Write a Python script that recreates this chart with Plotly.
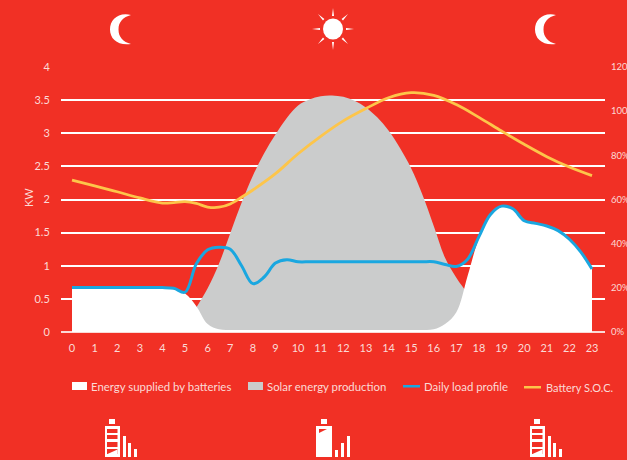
import plotly.graph_objects as go

# Half-hourly profile series, in kW
solar_hours = [4.5, 5, 5.5, 6, 6.5, 7, 7.5, 8, 8.5, 9, 9.5, 10, 10.5, 11, 11.5, 12, 12.5, 13, 13.5, 14, 14.5, 15, 15.5, 16, 16.5, 17, 17.5, 18, 18.5, 19, 19.5]
solar_kw = [0, 0.1, 0.37, 0.66, 1.03, 1.49, 1.95, 2.36, 2.7, 2.98, 3.23, 3.42, 3.51, 3.56, 3.57, 3.55, 3.49, 3.39, 3.24, 3.04, 2.78, 2.47, 2.07, 1.6, 1.12, 0.82, 0.58, 0.33, 0.14, 0.04, 0]

load_hours = [0, 0.5, 1, 1.5, 2, 2.5, 3, 3.5, 4, 4.5, 5, 5.5, 6, 6.5, 7, 7.5, 8, 8.5, 9, 9.5, 10, 10.5, 11, 11.5, 12, 12.5, 13, 13.5, 14, 14.5, 15, 15.5, 16, 16.5, 17, 17.5, 18, 18.5, 19, 19.5, 20, 20.5, 21, 21.5, 22, 22.5, 23]
load_kw = [0.67, 0.67, 0.67, 0.67, 0.67, 0.67, 0.67, 0.67, 0.67, 0.66, 0.6, 1.03, 1.24, 1.28, 1.25, 1.0, 0.73, 0.83, 1.04, 1.09, 1.06, 1.06, 1.06, 1.06, 1.06, 1.06, 1.06, 1.06, 1.06, 1.06, 1.06, 1.06, 1.06, 1.02, 0.99, 1.1, 1.44, 1.77, 1.9, 1.86, 1.68, 1.64, 1.6, 1.53, 1.4, 1.21, 0.95]

battery_hours = load_hours
battery_kw = [0.66, 0.66, 0.66, 0.66, 0.66, 0.66, 0.66, 0.66, 0.66, 0.645, 0.58, 0.39, 0.12, 0.04, 0.03, 0.03, 0.03, 0.03, 0.03, 0.03, 0.03, 0.03, 0.03, 0.03, 0.03, 0.03, 0.03, 0.03, 0.03, 0.03, 0.03, 0.03, 0.04, 0.12, 0.3, 0.85, 1.42, 1.77, 1.9, 1.86, 1.68, 1.64, 1.6, 1.53, 1.4, 1.21, 0.95]

# Battery state of charge, in percent
soc_hours = [0, 1, 2, 3, 4, 4.5, 5, 5.5, 6, 6.5, 7, 7.5, 8, 9, 10, 11, 12, 13, 14, 15, 16, 17, 18, 19, 20, 21, 22, 23]
soc_percent = [68.8, 66.2, 63.5, 60.7, 58.4, 58.6, 59, 58.2, 56.6, 56.5, 58, 61, 64.3, 71.7, 80.7, 88.6, 95.6, 101.2, 106.1, 108.4, 107.2, 103, 97.2, 91, 85, 79.4, 74.7, 70.8]

hour_ticks = list(range(24))
kw_ticks = [0, 0.5, 1, 1.5, 2, 2.5, 3, 3.5, 4]
kw_labels = ["0", "0.5", "1", "1.5", "2", "2.5", "3", "3.5", "4"]
soc_ticks = [0, 20, 40, 60, 80, 100, 120]
soc_labels = ["0%", "20%", "40%", "60%", "80%", "100%", "120%"]

legend_labels = ["Energy supplied by batteries", "Solar energy production", "Daily load profile", "Battery S.O.C."]

RED = "#F13025"
GREY = "#CBCCCC"
BLUE = "#1AA7E0"
YELLOW = "#FDC54A"
PALE = "#FBDAD6"
FONT = "Lato"

W, H = 627, 460
LEFT, RIGHT, TOP, BOTTOM = 61, 605, 67, 332
PX_PER_HOUR = 520 / 23


def fx(px):
    return (px - LEFT) / (RIGHT - LEFT)


def fy(py):
    return (BOTTOM - py) / (BOTTOM - TOP)


def rect(x0, y0, x1, y1, color="white"):
    return dict(type="rect", xref="paper", yref="paper", x0=fx(x0), x1=fx(x1), y0=fy(y0), y1=fy(y1),
                fillcolor=color, line_width=0, layer="above")


def poly(points, color="white"):
    d = "M " + " L ".join(f"{fx(x):.5f} {fy(y):.5f}" for x, y in points) + " Z"
    return dict(type="path", xref="paper", yref="paper", path=d, fillcolor=color, line_width=0, layer="above")


def moon(x):
    # Crescent built from four cubic segments, x is its left edge
    def p(dx, y):
        return f"{fx(x + dx):.5f} {fy(y):.5f}"
    d = (f"M {p(21, 15)} C {p(8, 12)} {p(0, 20)} {p(0, 29.5)} C {p(0, 39)} {p(8, 46)} {p(21, 44)} "
         f"C {p(13, 42)} {p(8.5, 37)} {p(8.5, 29.5)} C {p(8.5, 22)} {p(13, 17)} {p(21, 15)} Z")
    return dict(type="path", xref="paper", yref="paper", path=d, fillcolor="white", line_width=0, layer="above")


def sun(cx, cy):
    items = [dict(type="circle", xref="paper", yref="paper", x0=fx(cx - 10), x1=fx(cx + 10),
                  y0=fy(cy + 10.5), y1=fy(cy - 10.5), fillcolor="white", line_width=0, layer="above")]
    rays = [((0, -21), (1, 0)), ((0, 21), (1, 0)), ((-21, 0), (0, 1)), ((21, 0), (0, 1)),
            ((-15, -15), (.7, -.7)), ((15, -15), (.7, .7)), ((-15, 15), (.7, .7)), ((15, 15), (.7, -.7))]
    for (tx, ty), (nx, ny) in rays:
        # Thin spike pointing outward, base on the inner radius
        bx, by = tx * 0.62, ty * 0.62
        items.append(poly([(cx + tx, cy + ty), (cx + bx + nx, cy + by + ny), (cx + bx - nx, cy + by - ny)]))
    return items


def full_cells(x):
    # Battery whose charge is shown as four stacked cells, x is the body's left edge
    items = [rect(x + 4, 419, x + 10, 424), rect(x, 426, x + 15, 457)]
    for y0, y1 in [(429, 433), (435, 439), (442, 447)]:
        items.append(rect(x + 2, y0, x + 12.5, y1, RED))
    items.append(rect(x + 2, 449, x + 12.5, 454, RED))
    items.append(poly([(x + 12.5, 449.5), (x + 12.5, 454), (x + 2.5, 454)]))
    for bx, top in [(x + 18, 436), (x + 23, 443), (x + 29, 449)]:
        items.append(rect(bx, top, bx + 3, 457))
    return items


def charging(x):
    # Solid battery with a rising signal next to it
    items = [rect(x + 5, 419, x + 11, 424), rect(x, 426, x + 16, 457)]
    items.append(poly([(x + 3, 429), (x + 11, 429), (x + 3, 433)], RED))
    for bx, top in [(x + 19, 450), (x + 25, 443), (x + 31, 436)]:
        items.append(rect(bx, top, bx + 3, 457))
    return items


fig = go.Figure()
fig.add_trace(go.Scatter(x=solar_hours, y=solar_kw, name=legend_labels[1], mode="lines", fill="tozeroy",
                         fillcolor=GREY, line=dict(width=0, shape="spline", smoothing=1, color=GREY)))
fig.add_trace(go.Scatter(x=battery_hours, y=battery_kw, name=legend_labels[0], mode="lines", fill="tozeroy",
                         fillcolor="white", line=dict(width=0, shape="spline", smoothing=1, color="white")))
fig.add_trace(go.Scatter(x=load_hours, y=load_kw, name=legend_labels[2], mode="lines",
                         line=dict(width=3, shape="spline", smoothing=1, color=BLUE)))
fig.add_trace(go.Scatter(x=soc_hours, y=soc_percent, name=legend_labels[3], mode="lines", yaxis="y2",
                         line=dict(width=2.8, shape="spline", smoothing=1, color=YELLOW)))

shapes = [moon(110), moon(535)] + sun(333, 29) + full_cells(105) + charging(316) + full_cells(530)
# Legend swatches
shapes += [rect(72, 382, 87, 390), rect(248, 382, 263, 390, GREY),
           rect(403, 385, 420, 387.5, BLUE), rect(524, 386, 541, 388.5, YELLOW)]

legend_x = [91, 267, 424, 546]
legend_y = [386, 386, 386, 387]
legend_sizes = [11.4, 11.4, 11.4, 11]
annotations = [dict(text=t, xref="paper", yref="paper", x=fx(x), y=fy(y), xanchor="left", yanchor="middle",
                    showarrow=False, xshift=-2, font=dict(family=FONT, size=s, color=PALE))
               for t, x, y, s in zip(legend_labels, legend_x, legend_y, legend_sizes)]
# Left axis unit, rotated alongside the tick labels
annotations.append(dict(text="KW", xref="paper", yref="paper", x=fx(28), y=fy(198), xanchor="center",
                        yanchor="middle", textangle=-90, showarrow=False,
                        font=dict(family=FONT, size=11, color=PALE)))

fig.update_layout(
    width=W, height=H, autosize=False, showlegend=False,
    paper_bgcolor=RED, plot_bgcolor=RED,
    margin=dict(l=LEFT, r=W - RIGHT, t=TOP, b=H - BOTTOM, pad=0),
    font=dict(family=FONT, size=11, color=PALE),
    shapes=shapes, annotations=annotations,
    xaxis=dict(range=[(LEFT - 72) / PX_PER_HOUR, (RIGHT - 72) / PX_PER_HOUR], automargin=False,
               tickvals=hour_ticks, ticktext=[str(h) for h in hour_ticks],
               showgrid=False, zeroline=False, showline=False,
               ticks="outside", ticklen=6, tickcolor="rgba(0,0,0,0)"),
    yaxis=dict(range=[0, 4], tickvals=kw_ticks, ticktext=kw_labels, automargin=False,
               showgrid=True, gridcolor="white", gridwidth=1.5, zeroline=True, zerolinecolor=PALE, zerolinewidth=2,
               showline=False, ticks="outside", ticklen=8, tickcolor="rgba(0,0,0,0)"),
    yaxis2=dict(range=[0, 120], overlaying="y", side="right", tickvals=soc_ticks, ticktext=soc_labels,
                tickfont=dict(family=FONT, size=9.5, color=PALE),
                automargin=False, showgrid=False, zeroline=False, showline=False,
                ticks="outside", ticklen=3, tickcolor="rgba(0,0,0,0)"),
)

fig.write_html("out.html", config=dict(displayModeBar=False))
